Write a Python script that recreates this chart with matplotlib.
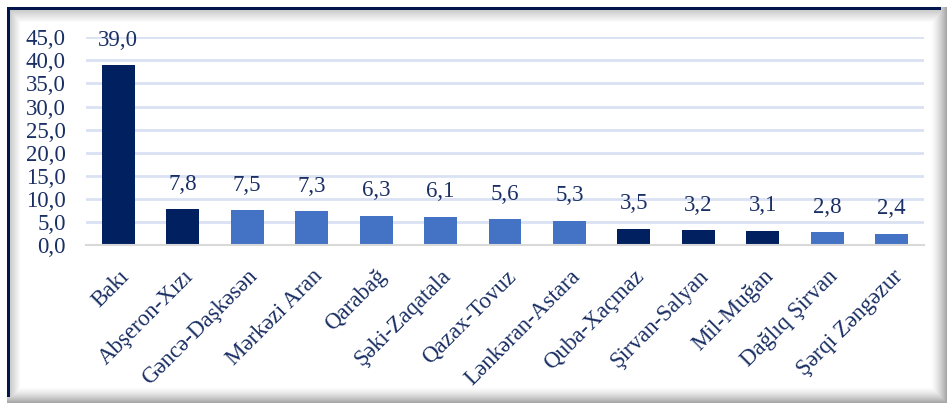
import numpy as np
import matplotlib
matplotlib.use("Agg")
import matplotlib.pyplot as plt

# Regional values (%)
regions = ["Bakı", "Abşeron-Xızı", "Gəncə-Daşkəsən", "Mərkəzi Aran", "Qarabağ",
           "Şəki-Zaqatala", "Qazax-Tovuz", "Lənkəran-Astara", "Quba-Xaçmaz",
           "Şirvan-Salyan", "Mil-Muğan", "Dağlıq Şirvan", "Şərqi Zəngəzur"]
values = [39.0, 7.8, 7.5, 7.3, 6.3, 6.1, 5.6, 5.3, 3.5, 3.2, 3.1, 2.8, 2.4]
highlight = [True, True, False, False, False, False, False, False, True, True, True, False, False]
yticks = [0, 5, 10, 15, 20, 25, 30, 35, 40, 45]

DARK = "#002060"
LIGHT = "#4472C4"
TEXT = "#1A2F63"
FONT = "Liberation Serif"
FS = 16.5

W, H = 947, 403
fig = plt.figure(figsize=(W / 100, H / 100), dpi=100)

# Framed background: navy top/left edge with inner shade, soft shadow right/bottom
bg = np.ones((H, W, 3))
yy, xx = np.mgrid[0:H, 0:W]
shade = np.ones((H, W))
top_in = np.clip((yy - 10) / 12.0, 0, 1)
left_in = np.clip((xx - 10) / 10.0, 0, 1)
shade = np.minimum(shade, 0.80 + 0.20 * top_in)
shade = np.minimum(shade, 0.80 + 0.20 * left_in)
right_out = np.clip((xx - 930) / 17.0, 0, 1)
bottom_out = np.clip((yy - 386) / 17.0, 0, 1)
shade = np.minimum(shade, 1 - 0.38 * right_out ** 1.5)
shade = np.minimum(shade, 1 - 0.38 * bottom_out ** 1.5)
outside = (xx < 7) | (yy < 7)
shade[outside] = 1.0
bg *= shade[..., None]
navy = np.array([0.0, 0.09, 0.30])
bg[7:10, 7:941] = navy
bg[7:397, 7:10] = navy
bgax = fig.add_axes([0, 0, 1, 1], zorder=-10)
bgax.imshow(bg, aspect="auto", extent=[0, W, H, 0], interpolation="bilinear")
bgax.set_axis_off()

left, right = 86 / W, 924 / W
bottom = 1 - 245 / H
top = 1 - 37.3 / H
ax = fig.add_axes([left, bottom, right - left, top - bottom])
ax.patch.set_alpha(0)

x = np.arange(len(regions))
colors = [DARK if h else LIGHT for h in highlight]
ax.bar(x, values, width=0.51, color=colors, zorder=3)

for xi, v in zip(x, values):
    ax.annotate(f"{v:.1f}".replace(".", ","), (xi, v), xytext=(0, 14),
                textcoords="offset points", ha="center", va="baseline",
                fontsize=FS, color=TEXT, family=FONT)

ax.set_xlim(-0.5, len(regions) - 0.5)
ax.set_ylim(0, 45)
ax.set_yticks(yticks)
ax.set_yticklabels([f"{t:.1f}".replace(".", ",") for t in yticks],
                   fontsize=FS, color=TEXT, family=FONT)
ax.grid(axis="y", color="#D9E1F2", linewidth=2, zorder=0)
ax.set_axisbelow(True)

ax.set_xticks(x)
ax.set_xticklabels(regions, rotation=45, ha="right", rotation_mode="anchor",
                   fontsize=FS, color=TEXT, family=FONT)
ax.tick_params(axis="both", length=0)
ax.tick_params(axis="x", pad=15)
ax.tick_params(axis="y", pad=14.5)

for s in ["top", "right", "left"]:
    ax.spines[s].set_visible(False)
ax.spines["bottom"].set_color("#D9D9D9")
ax.spines["bottom"].set_linewidth(1.5)
ax.spines["bottom"].set_zorder(4)

fig.savefig("out.png", dpi=100)
